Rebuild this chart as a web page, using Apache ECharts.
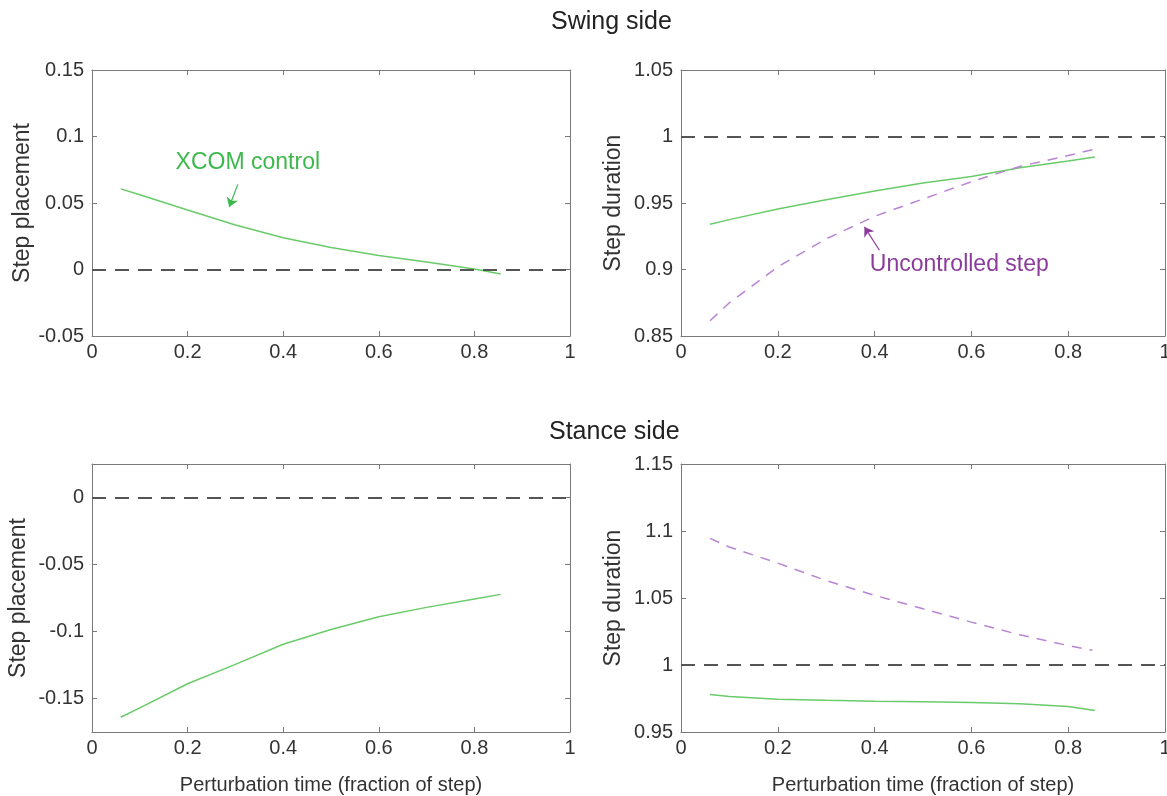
<!DOCTYPE html>
<html lang="en">
<head>
    <meta charset="UTF-8">
    <title>Swing / stance side</title>
    <script src="https://cdn.jsdelivr.net/npm/echarts@6/dist/echarts.min.js"></script>
</head>
<body style="margin:0;background:#fff">
    <div id="main" style="width: 1167px;height:796px"></div>
    <script type="text/javascript">
        // data
        var pertTime = [0.06, 0.1, 0.2, 0.3, 0.4, 0.5, 0.6, 0.7, 0.8, 0.855];
        var pertTimeUnc = [0.06, 0.1, 0.2, 0.3, 0.4, 0.5, 0.6, 0.7, 0.8, 0.85];
        var swingPlaceXcom = [0.0606, 0.0562, 0.0447, 0.0335, 0.0239, 0.0166, 0.0105, 0.0057, 0.0004, -0.0033];
        var swingDurXcom = [0.934, 0.9375, 0.9455, 0.9525, 0.959, 0.965, 0.970, 0.9765, 0.9815, 0.9845];
        var swingDurUnc = [0.8615, 0.875, 0.902, 0.923, 0.940, 0.953, 0.966, 0.9775, 0.9857, 0.990];
        var stancePlaceXcom = [-0.164, -0.157, -0.139, -0.1245, -0.1095, -0.0985, -0.089, -0.082, -0.0757, -0.0723];
        var stanceDurXcom = [0.978, 0.9765, 0.9745, 0.9737, 0.973, 0.9725, 0.972, 0.971, 0.969, 0.966];
        var stanceDurUnc = [1.0945, 1.088, 1.076, 1.063, 1.052, 1.042, 1.032, 1.0225, 1.0145, 1.011];
        var stancePlaceTicks = [-0.15, -0.1, -0.05, 0];

        var font = 'Liberation Sans, Arial, sans-serif';
        var green = '#6acb6a', greenText = '#3db84c';
        var purple = '#b984d4', purpleText = '#8c3b9c';
        var axisColor = '#7a7a7a';

        function pairs(xs, ys) {
            return xs.map(function (x, i) { return [x, ys[i]]; });
        }

        var grids = [
            {left: 92, top: 70, width: 478, height: 266, outerBoundsMode: 'none', containLabel: false},
            {left: 681, top: 70, width: 484, height: 266, outerBoundsMode: 'none', containLabel: false},
            {left: 92, top: 464, width: 478, height: 268, outerBoundsMode: 'none', containLabel: false},
            {left: 681, top: 464, width: 484, height: 268, outerBoundsMode: 'none', containLabel: false}
        ];
        var yRanges = [
            {min: -0.05, max: 0.15, interval: 0.05, name: 'Step placement', gap: 58},
            {min: 0.85, max: 1.05, interval: 0.05, name: 'Step duration', gap: 56},
            {min: -0.175, max: 0.025, custom: stancePlaceTicks, name: 'Step placement', gap: 62},
            {min: 0.95, max: 1.15, interval: 0.05, name: 'Step duration', gap: 56}
        ];

        var xAxes = [], yAxes = [];
        grids.forEach(function (g, i) {
            var bottomName = i >= 2 ? 'Perturbation time (fraction of step)' : '';
            [false, true].forEach(function (second) {
                xAxes.push({
                    gridIndex: i, type: 'value', min: 0, max: 1, interval: 0.2,
                    position: second ? 'top' : 'bottom',
                    name: second ? '' : bottomName, nameLocation: 'middle', nameGap: 43,
                    nameTextStyle: {fontFamily: font, fontSize: 20, color: '#333'},
                    axisLine: {show: true, onZero: false, lineStyle: {color: axisColor, width: 1}},
                    axisTick: {show: true, inside: true, length: 5, lineStyle: {color: axisColor}},
                    axisLabel: {show: !second, fontFamily: font, fontSize: 20, color: '#333', margin: 6},
                    splitLine: {show: false}
                });
                var r = yRanges[i];
                var y = {
                    gridIndex: i, type: 'value', min: r.min, max: r.max,
                    position: second ? 'right' : 'left',
                    name: second ? '' : r.name, nameLocation: 'middle', nameGap: r.gap,
                    nameTextStyle: {fontFamily: font, fontSize: 23, color: '#333'},
                    axisLine: {show: true, onZero: false, lineStyle: {color: axisColor, width: 1}},
                    axisTick: {show: true, inside: true, length: 5, lineStyle: {color: axisColor}},
                    axisLabel: {show: !second, fontFamily: font, fontSize: 20, color: '#333', margin: 8},
                    splitLine: {show: false}
                };
                if (r.custom) {
                    y.axisTick.customValues = r.custom;
                    y.axisLabel.customValues = r.custom;
                } else {
                    y.interval = r.interval;
                }
                yAxes.push(y);
            });
        });

        function refLine(v) {
            return {
                silent: true, symbol: ['none', 'none'], label: {show: false},
                lineStyle: {color: '#555', width: 1.8, type: [14, 9]},
                data: [{yAxis: v}]
            };
        }
        function arrow(from, to, color) {
            return {
                silent: true, symbol: ['none', 'arrow'], symbolSize: 9, label: {show: false},
                lineStyle: {color: color, width: 1.2, type: 'solid'},
                data: [[{coord: from}, {coord: to}]]
            };
        }
        function note(at, text, color) {
            return {
                silent: true, symbol: 'circle', symbolSize: 1,
                itemStyle: {color: 'rgba(0,0,0,0)'},
                label: {show: true, position: 'inside', formatter: text, color: color,
                    fontFamily: font, fontSize: 23},
                data: [{coord: at}]
            };
        }
        function line(i, data, color, dashed) {
            return {
                type: 'line', xAxisIndex: i * 2, yAxisIndex: i * 2, data: data,
                showSymbol: false, smooth: false, animation: false,
                lineStyle: {color: color, width: 1.5, type: dashed ? [10, 8] : 'solid'}
            };
        }

        var s0 = line(0, pairs(pertTime, swingPlaceXcom), green);
        s0.markLine = refLine(0);
        var s0b = line(0, [], green);
        s0b.markLine = arrow([0.305, 0.064], [0.287, 0.047], greenText);
        s0b.markPoint = note([0.326, 0.0806], 'XCOM control', greenText);

        var s1 = line(1, pairs(pertTime, swingDurXcom), green);
        s1.markLine = refLine(1);
        var s1b = line(1, pairs(pertTimeUnc, swingDurUnc), purple, true);
        var s1c = line(1, [], purple);
        s1c.markLine = arrow([0.41, 0.9145], [0.379, 0.932], purpleText);
        s1c.markPoint = note([0.575, 0.9033], 'Uncontrolled step', purpleText);

        var s2 = line(2, pairs(pertTime, stancePlaceXcom), green);
        s2.markLine = refLine(0);

        var s3 = line(3, pairs(pertTime, stanceDurXcom), green);
        s3.markLine = refLine(1);
        var s3b = line(3, pairs(pertTimeUnc, stanceDurUnc), purple, true);

        var myChart = echarts.init(document.getElementById('main'));
        myChart.setOption({
            animation: false,
            backgroundColor: '#fff',
            title: [
                {text: 'Swing side', left: 546, top: 5,
                    textStyle: {fontFamily: font, fontSize: 25, fontWeight: 'normal', color: '#222'}},
                {text: 'Stance side', left: 544, top: 415,
                    textStyle: {fontFamily: font, fontSize: 25, fontWeight: 'normal', color: '#222'}}
            ],
            grid: grids,
            xAxis: xAxes,
            yAxis: yAxes,
            series: [s0, s0b, s1, s1b, s1c, s2, s3, s3b]
        });
    </script>
</body>
</html>
